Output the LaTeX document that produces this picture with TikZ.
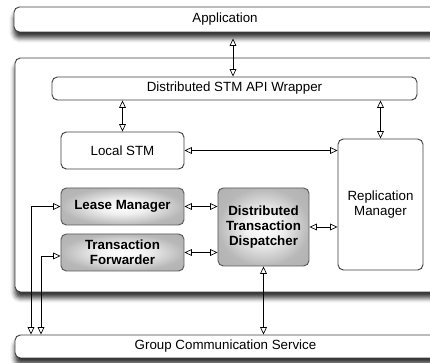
\documentclass[tikz,border=0pt]{standalone}
\usepackage{fontspec}
\setmainfont{Liberation Sans}
\usetikzlibrary{arrows.meta,shadows.blur}

% soft glow used for the active components: white core, grey rim
\pgfdeclareradialshading{glow}{\pgfpoint{0bp}{0bp}}{%
  color(0bp)=(white); color(10bp)=(white!94!black);
  color(25bp)=(black!28); color(50bp)=(black!34)}

\begin{document}
\begin{tikzpicture}[x=0.75pt,y=-0.75pt,
  font=\fontsize{10}{11.2}\selectfont,
  box/.style={draw=black!75, line width=0.7pt, rounded corners=4pt, fill=white,
    inner sep=0pt, align=center},
  layer/.style={box, blur shadow={shadow xshift=0pt, shadow yshift=-4.5pt,
    shadow blur radius=3.5pt, shadow opacity=80}},
  comp/.style={box, draw=black!65, shading=glow,
    font=\fontsize{10}{11}\selectfont\bfseries},
  tip/.tip={Triangle[open,length=5.5pt,width=5pt,line width=0.5pt]},
  link/.style={line width=0.6pt, tip-tip}
]
\useasboundingbox (0,0) rectangle (430,363);
\begin{scope}
\clip (0,0) rectangle (430,363);

% outer layers
\node[layer, minimum width=316.5pt, minimum height=18.75pt] (app) at (225,19.5) {Application};
\node[layer, minimum width=315.75pt, minimum height=175.5pt] (core) at (225.5,175) {};
\node[layer, minimum width=315.75pt, minimum height=17.25pt] (gcs) at (225.5,346.5) {Group Communication Service};

% components of the middle layer
\node[box, minimum width=273.75pt, minimum height=17.25pt] (wrap) at (234.5,88.5) {Distributed STM API Wrapper};
\node[box, minimum width=92.25pt, minimum height=27.75pt] (local) at (122.5,150.5) {Local STM};
\node[box, minimum width=63.75pt, minimum height=98.25pt] (repl) at (380.5,204.5) {Replication\\Manager};
\node[comp, minimum width=92.25pt, minimum height=27.75pt] (lease) at (122.5,206.5) {Lease Manager};
\node[comp, minimum width=92.25pt, minimum height=27.75pt] (fwd) at (122.5,252.5) {Transaction\\Forwarder};
\node[comp, minimum width=68.25pt, minimum height=58.5pt] (dtd) at (263.5,227) {Distributed\\Transaction\\Dispatcher};

% connectors
\coordinate (c1) at (233,0);
\coordinate (l1) at (31,0);
\coordinate (l2) at (41,0);
\draw[link, shorten <=4.5pt] (app.south -| c1) -- (wrap.north -| c1);
\draw[link] (wrap.south -| local.north) -- (local.north);
\draw[link] (wrap.south -| repl.north) -- (repl.north);
\draw[link] (local.east) -- (local.east -| repl.west);
\draw[link] (lease.east) -- (lease.east -| dtd.west);
\draw[link] (fwd.east) -- (fwd.east -| dtd.west);
\draw[link] (dtd.east) -- (dtd.east -| repl.west);
\draw[link] (dtd.south) -- (dtd.south |- gcs.north);
\draw[link] (lease.west) -| (gcs.north -| l1);
\draw[link] ([yshift=-2.6pt]fwd.west) -| (gcs.north -| l2);
\end{scope}
\end{tikzpicture}
\end{document}
